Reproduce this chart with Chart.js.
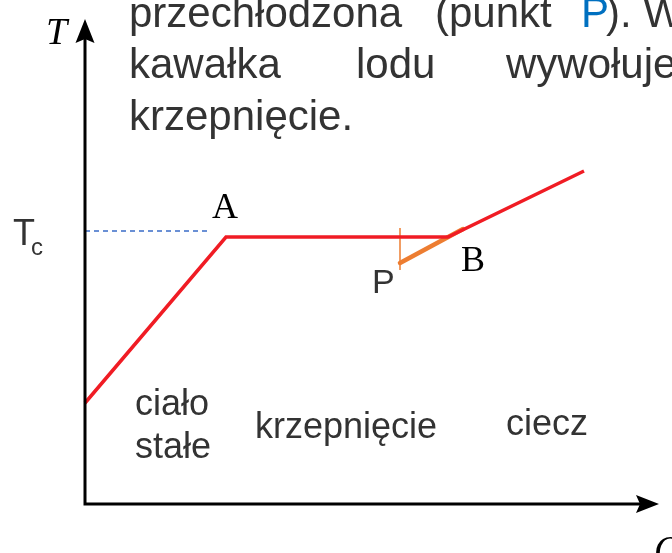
<!DOCTYPE html>
<html>
<head>
<meta charset="utf-8">
<script src="https://cdn.jsdelivr.net/npm/chart.js@4.4.1/dist/chart.umd.min.js"></script>
<style>
  html, body { margin: 0; padding: 0; background: #ffffff; }
  #wrap { width: 672px; height: 553px; }
</style>
</head>
<body>
<div id="wrap"><canvas id="krzywa" width="672" height="553"></canvas></div>
<script>
// heat Q vs temperature T, arbitrary units (origin at the axes corner)
const curveQ = [0, 141, 363, 499];
const curveT = [101, 267, 267, 333];
// supercooled liquid: P -> B
const coolQ = [315, 378];
const coolT = [241, 275];
// small marker through P
const markQ = [315, 315];
const markT = [234, 276];
// T_c guide line
const tcQ = [0, 123];
const tcT = [273, 273];
// axis lengths
const axisQmax = 574;
const axisTmax = 485;

const toXY = (qs, ts) => qs.map((q, i) => ({ x: q, y: ts[i] }));

const INK = '#333333';

const drawExtras = {
  id: 'drawExtras',
  afterDatasetsDraw(chart) {
    const ctx = chart.ctx;
    const sx = chart.scales.x, sy = chart.scales.y;
    const x0 = sx.getPixelForValue(0), y0 = sy.getPixelForValue(0);
    const xEnd = sx.getPixelForValue(axisQmax), yEnd = sy.getPixelForValue(axisTmax);
    ctx.save();

    // axes
    ctx.strokeStyle = '#000';
    ctx.fillStyle = '#000';
    ctx.lineWidth = 3;
    ctx.beginPath();
    ctx.moveTo(x0, yEnd + 18);
    ctx.lineTo(x0, y0);
    ctx.lineTo(xEnd - 18, y0);
    ctx.stroke();
    // arrow heads
    ctx.beginPath();
    ctx.moveTo(x0, yEnd);
    ctx.lineTo(x0 + 9.5, yEnd + 24);
    ctx.lineTo(x0, yEnd + 20);
    ctx.lineTo(x0 - 9.5, yEnd + 24);
    ctx.closePath();
    ctx.fill();
    ctx.beginPath();
    ctx.moveTo(xEnd, y0);
    ctx.lineTo(xEnd - 23, y0 - 9);
    ctx.lineTo(xEnd - 19, y0);
    ctx.lineTo(xEnd - 23, y0 + 9);
    ctx.closePath();
    ctx.fill();

    // axis names
    ctx.font = 'italic 38px "Liberation Serif", serif';
    ctx.textBaseline = 'alphabetic';
    ctx.fillText('T', 46, 44);
    ctx.fillText('Q', 654, 562);

    // point labels
    ctx.fillStyle = '#000';
    ctx.font = '36px "Liberation Serif", serif';
    ctx.fillText('A', 212, 218);
    ctx.fillText('B', 461, 271);

    ctx.fillStyle = INK;
    ctx.font = '34px "Liberation Sans", Arial, sans-serif';
    ctx.fillText('P', 372, 293);

    // T_c
    ctx.font = '36px "Liberation Sans", Arial, sans-serif';
    ctx.fillText('T', 13, 245);
    ctx.font = '24px "Liberation Sans", Arial, sans-serif';
    ctx.fillText('c', 31, 255);

    // region names
    ctx.font = '36px "Liberation Sans", Arial, sans-serif';
    ctx.fillText('ciało', 135, 415);
    ctx.fillText('stałe', 135, 458);
    ctx.fillText('krzepnięcie', 255, 438);
    ctx.fillText('ciecz', 506, 435);

    // slide text above the diagram (justified, so words placed one by one)
    ctx.font = '42px "Liberation Sans", Arial, sans-serif';
    const words = [
      ['przechłodzona', 129, 27, INK], ['(punkt', 435, 27, INK], ['P', 581, 27, '#0070c0'],
      ['). W', 606, 27, INK],
      ['kawałka', 129, 78, INK], ['lodu', 356, 78, INK], ['wywołuje', 506, 78, INK],
      ['krzepnięcie.', 129, 130, INK]
    ];
    words.forEach(([w, x, y, c]) => { ctx.fillStyle = c; ctx.fillText(w, x, y); });

    ctx.restore();
  }
};

new Chart(document.getElementById('krzywa'), {
  type: 'scatter',
  data: {
    datasets: [
      {
        data: toXY(tcQ, tcT),
        showLine: true,
        borderColor: '#3a6cc8',
        borderWidth: 1.3,
        borderDash: [5, 4],
        pointRadius: 0
      },
      {
        data: toXY(curveQ, curveT),
        showLine: true,
        borderColor: '#f01c24',
        borderWidth: 3.5,
        pointRadius: 0
      },
      {
        data: toXY(markQ, markT),
        showLine: true,
        borderColor: '#ed7d31',
        borderWidth: 1.5,
        pointRadius: 0
      },
      {
        data: toXY(coolQ, coolT),
        showLine: true,
        borderColor: '#ed7d31',
        borderWidth: 4.5,
        borderCapStyle: 'round',
        pointRadius: 0
      }
    ]
  },
  options: {
    responsive: false,
    animation: false,
    layout: { padding: 0 },
    plugins: { legend: { display: false }, tooltip: { enabled: false } },
    scales: {
      x: { type: 'linear', min: -85, max: 587, display: false },
      y: { type: 'linear', min: -49, max: 504, display: false }
    }
  },
  plugins: [drawExtras]
});
</script>
</body>
</html>
